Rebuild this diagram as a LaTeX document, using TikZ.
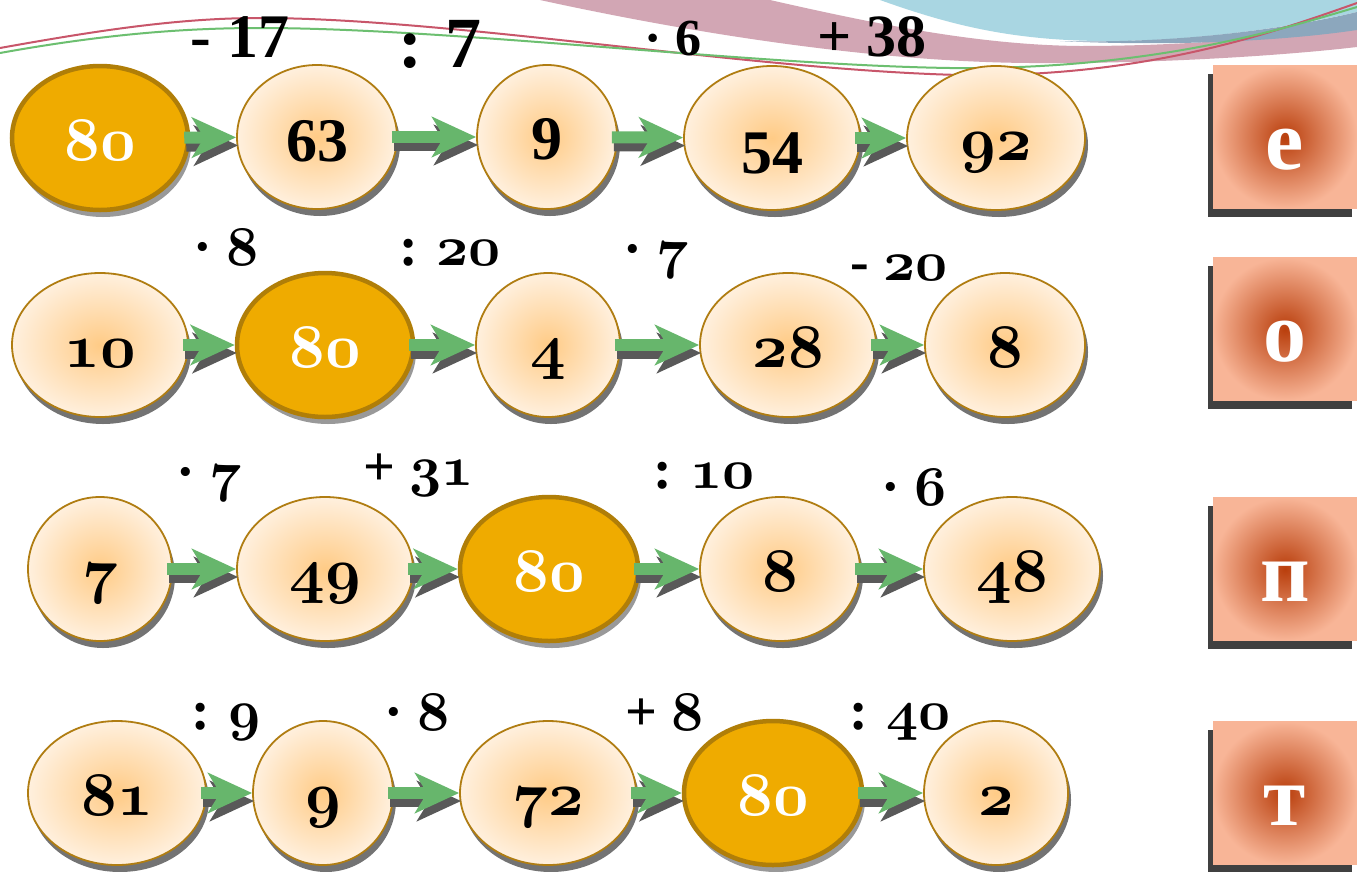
\documentclass[tikz,border=0pt]{standalone}
\usepackage{fontspec}
\setmainfont{Liberation Serif}
\usetikzlibrary{arrows.meta,shapes.geometric,shadows}
\font\osfbig=cmmib10 at 62pt
\font\osfsmall=cmmib10 at 56pt
\newcommand\osf[1]{{\osfbig #1}}
\newcommand\osl[1]{{\osfsmall #1}}
\definecolor{gold}{HTML}{EFAB00}
\definecolor{goldring}{HTML}{B07E08}
\definecolor{ringc}{HTML}{B07D12}
\definecolor{innc}{HTML}{FFCB86}
\definecolor{outc}{HTML}{FFF0DE}
\definecolor{arrg}{HTML}{67B66C}
\definecolor{boxin}{HTML}{B93E0C}
\definecolor{boxout}{HTML}{F8B597}
\definecolor{mauve}{HTML}{D2A6B4}
\definecolor{skyb}{HTML}{A9D6E2}
\definecolor{greyb}{HTML}{8CA7BD}
\definecolor{redl}{HTML}{C8566A}
\definecolor{greenl}{HTML}{6CBF70}
\tikzset{
  numfont/.style={font=\fontsize{62}{70}\selectfont\bfseries},
  lite/.style={ellipse, draw=ringc, line width=1.8pt, inner color=innc, outer color=outc,
    inner sep=0pt, minimum height=144pt, text height=44pt, text depth=0pt, numfont,
    drop shadow={shadow xshift=3pt, shadow yshift=-7pt, opacity=.55, fill=black}},
  dark/.style={ellipse, draw=goldring, line width=4.5pt, fill=gold, text=white,
    inner sep=0pt, minimum height=144pt, text height=44pt, text depth=0pt, numfont,
    drop shadow={shadow xshift=3pt, shadow yshift=-7pt, opacity=.4, fill=black}},
  arr/.style={line width=12pt, draw=arrg, -{Stealth[length=44pt,width=40pt,inset=12pt]}, shorten <=-6pt},
  arrsh/.style={line width=12pt, draw=black!65, -{Stealth[length=44pt,width=40pt,inset=12pt]}, shorten <=-6pt,
    transform canvas={shift={(2pt,-8pt)}}},
  oplab/.style={anchor=base, inner sep=0pt, font=\fontsize{56}{60}\selectfont\bfseries},
  lbox/.style={rectangle, inner sep=0pt, minimum width=144pt, minimum height=143pt,
    inner color=boxin, outer color=boxout, text=white, text height=64pt, text depth=0pt,
    font=\fontsize{86}{90}\selectfont\bfseries,
    drop shadow={shadow xshift=-5pt, shadow yshift=-8pt, opacity=.75, fill=black}},
  wline/.style={line width=2pt}
}
\begin{document}
\begin{tikzpicture}[x=1pt,y=-1pt]
\useasboundingbox (0,0) rectangle (1357,871);
\fill[white] (0,0) rectangle (1357,871);
% decorative waves
\fill[mauve] (540,0) -- (770,0) .. controls (880,25) and (980,45) .. (1080,46)
  .. controls (1200,46) and (1300,35) .. (1357,26) -- (1357,47)
  .. controls (1280,56) and (1150,64) .. (1030,63)
  .. controls (880,62) and (700,35) .. (540,0) -- cycle;
\fill[skyb] (880,0) .. controls (950,25) and (1010,40) .. (1100,41)
  .. controls (1200,42) and (1300,25) .. (1357,12) -- (1357,0) -- cycle;
\fill[greyb] (1060,41) .. controls (1180,44) and (1290,28) .. (1357,12) -- (1357,30)
  .. controls (1290,40) and (1180,47) .. (1060,41) -- cycle;
\draw[wline, redl] (0,48) .. controls (100,30) and (180,18) .. (260,18)
  .. controls (450,18) and (750,70) .. (960,75) .. controls (1150,78) and (1280,30) .. (1357,3);
\draw[wline, greenl] (0,53) .. controls (100,35) and (180,28) .. (260,28)
  .. controls (450,28) and (750,65) .. (950,68) .. controls (1150,70) and (1280,30) .. (1357,7);
% row 1
\node[dark, minimum width=176pt] (a1) at (100,138) {\osf{80}};
\node[lite, minimum width=160pt] (a2) at (317,137) {\raisebox{-2pt}{63}};
\node[lite, minimum width=140pt] (a3) at (547,137) {9};
\node[lite, minimum width=176pt] (a4) at (772,138) {\raisebox{-13pt}{54}};
\node[lite, minimum width=178pt] (a5) at (996,138) {\osf{92}};
% row 2
\node[lite, minimum width=176pt] (b1) at (100,345) {\osf{10}};
\node[dark, minimum width=176pt] (b2) at (325,345) {\osf{80}};
\node[lite, minimum width=144pt] (b3) at (548,345) {\osf{4}};
\node[lite, minimum width=176pt] (b4) at (788,345) {\osf{28}};
\node[lite, minimum width=160pt] (b5) at (1005,345) {\osf{8}};
% row 3
\node[lite, minimum width=144pt] (c1) at (100,569) {\osf{7}};
\node[lite, minimum width=176pt] (c2) at (325,569) {\osf{49}};
\node[dark, minimum width=178pt] (c3) at (549,569) {\osf{80}};
\node[lite, minimum width=160pt] (c4) at (780,569) {\osf{8}};
\node[lite, minimum width=176pt] (c5) at (1012,569) {\osf{48}};
% row 4
\node[lite, minimum width=178pt] (d1) at (117,793) {\osf{81}};
\node[lite, minimum width=140pt] (d2) at (323,793) {\osf{9}};
\node[lite, minimum width=176pt] (d3) at (548,793) {\osf{72}};
\node[dark, minimum width=178pt] (d4) at (773,793) {\osf{80}};
\node[lite, minimum width=144pt] (d5) at (996,793) {\osf{2}};
% arrows
\foreach \p/\q in {a1/a2,a2/a3,a3/a4,a4/a5,b1/b2,b2/b3,b3/b4,b4/b5,c1/c2,c2/c3,c3/c4,c4/c5,d1/d2,d2/d3,d3/d4,d4/d5}{
  \draw[arrsh] (\p) -- (\q);
  \draw[arr] (\p) -- (\q);
}
% operation labels
\node[oplab, font=\fontsize{62}{66}\selectfont\bfseries] (l11) at (240,57) {- 17};
\node[oplab, font=\fontsize{72}{76}\selectfont\bfseries] (l12) at (440,67) {: 7};
\node[oplab, font=\fontsize{52}{56}\selectfont\bfseries] (l13) at (673,55) {· 6};
\node[oplab, font=\fontsize{60}{64}\selectfont\bfseries] (l14) at (872,56) {+ 38};
\node[oplab] (l21) at (226,265) {· \osl{8}};
\node[oplab] (l22) at (450,265) {: \osl{20}};
\node[oplab] (l23) at (656,267) {· \osl{7}};
\node[oplab] (l24) at (899,280) {- \osl{20}};
\node[oplab] (l31) at (209,490) {· \osl{7}};
\node[oplab] (l32) at (419,485) {+ \osl{31}};
\node[oplab] (l33) at (704,488) {: \osl{10}};
\node[oplab] (l34) at (914,505) {· \osl{6}};
\node[oplab] (l41) at (226,729) {: \osl{9}};
\node[oplab] (l42) at (417,730) {· \osl{8}};
\node[oplab] (l43) at (665,730) {+ \osl{8}};
\node[oplab] (l44) at (900,729) {: \osl{40}};
% letter boxes
\node[lbox] (ke) at (1285,137) {е};
\node[lbox] (ko) at (1285,329) {о};
\node[lbox] (kp) at (1285,569) {п};
\node[lbox] (kt) at (1285,793) {т};
\end{tikzpicture}
\end{document}
